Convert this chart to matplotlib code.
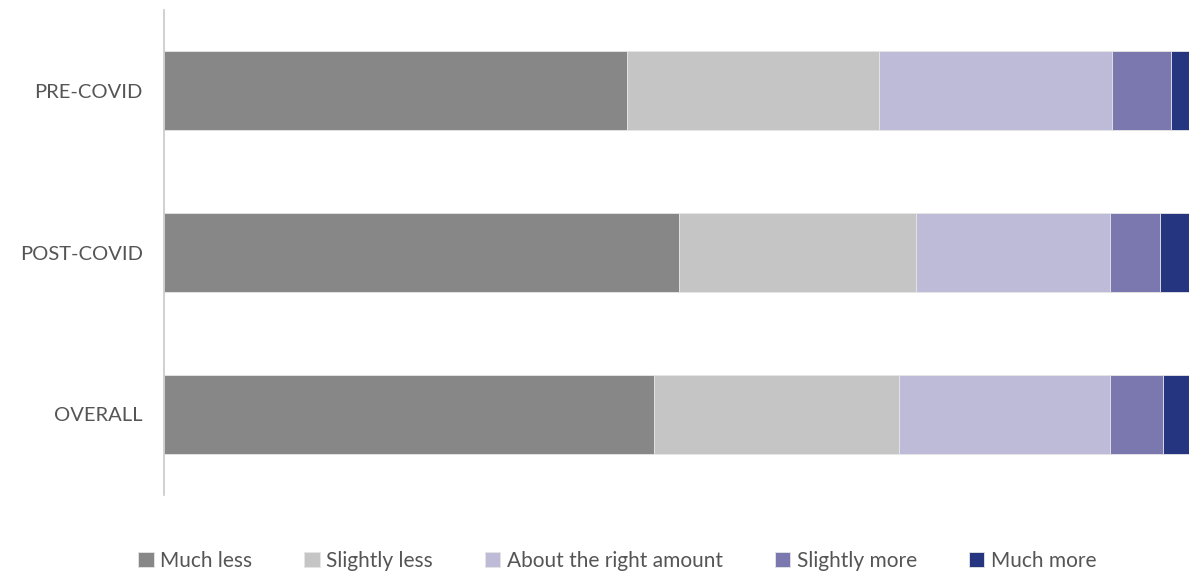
import matplotlib
matplotlib.use("Agg")
import matplotlib.pyplot as plt
import numpy as np

plt.rcParams['font.family'] = ['Lato', 'DejaVu Sans']

groups = ['PRE-COVID', 'POST-COVID', 'OVERALL']
answers = ['Much less', 'Slightly less', 'About the right amount', 'Slightly more', 'Much more']
much_less = [45.2, 50.3, 47.8]
slightly_less = [24.6, 23.1, 23.9]
about_right = [22.7, 18.9, 20.6]
slightly_more = [5.7, 4.9, 5.2]
much_more = [1.8, 2.8, 2.5]
colors = ['#878787', '#c5c5c5', '#bebbd9', '#7b78b0', '#263580']

series = [much_less, slightly_less, about_right, slightly_more, much_more]

fig = plt.figure(figsize=(11.89, 5.74), dpi=100)
ax = fig.add_axes([163.5 / 1189, 79 / 574, 1 - 163.5 / 1189, 485 / 574])

# stacked horizontal bars, one segment per answer
y = np.arange(len(groups))
left = np.zeros(len(groups))
for vals, name, c in zip(series, answers, colors):
    ax.barh(y, vals, left=left, height=0.49, color=c, label=name,
            edgecolor='#e6e6e6', linewidth=0.6)
    left += np.array(vals)

ax.set_xlim(0, 100)
ax.set_ylim(2.5, -0.5)
ax.set_yticks(y)
ax.set_yticklabels(groups, fontsize=14.5, color='#555555')
ax.tick_params(axis='y', length=0, pad=15)
ax.set_xticks([])
for s in ['top', 'right', 'bottom']:
    ax.spines[s].set_visible(False)
ax.spines['left'].set_color('#c8c8c8')
ax.spines['left'].set_linewidth(1.2)

leg = fig.legend(loc='center', bbox_to_anchor=(0.519, 1 - 561 / 574), ncol=5,
                 frameon=False, handlelength=0.75, handleheight=0.75,
                 handletextpad=0.3, columnspacing=2.5, fontsize=15)
for t in leg.get_texts():
    t.set_color('#555555')

fig.savefig('out.png', dpi=100)
